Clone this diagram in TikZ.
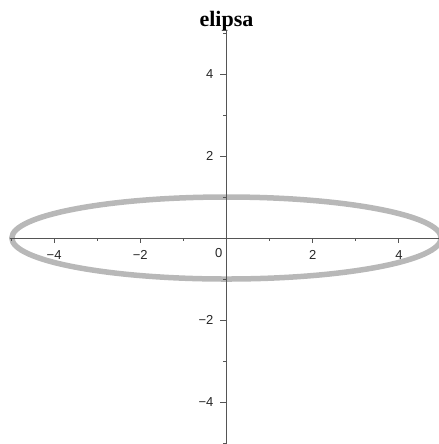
\documentclass[tikz,border=0pt]{standalone}
\usepackage{fontspec}
\setmainfont{Liberation Serif}
\newfontfamily\ticksfont{Liberation Sans}
\usepackage{xcolor}
\definecolor{cAxis}{HTML}{555555}
\definecolor{cCurve}{HTML}{B8B8B8}
\tikzset{
  axis/.style     = {draw=cAxis, line width=1pt},
  majtick/.style  = {draw=cAxis, line width=1pt},
  mintick/.style  = {draw=cAxis, line width=0.8pt},
  ticklab/.style  = {font=\ticksfont\fontsize{13}{13}\selectfont, text=black!85, inner sep=0pt},
  curve/.style    = {draw=cCurve, line width=5.5pt},
  ttl/.style      = {font=\bfseries\fontsize{22}{22}\selectfont, inner sep=0pt, anchor=base},
}

\begin{document}
\begin{tikzpicture}[x=43.1pt, y=41pt]
  \useasboundingbox (-5.255,-5.024) rectangle (4.930,5.805);
  % title
  \node[ttl] (title) at (0,5.17) {elipsa};

  % ellipse (under the axes)
  \draw[curve] (0,0) ellipse [x radius=4.98, y radius=1];

  % axes
  \coordinate (xl) at (-5.03,0);
  \coordinate (xr) at (4.93,0);
  \coordinate (yb) at (0,-5.03);
  \coordinate (yt) at (0,5.05);
  \draw[axis] (xl) -- (xr);
  \draw[axis] (yb) -- (yt);

  % ticks
  \foreach \t in {-4,-2,2,4} {
    \draw[majtick] (\t,0) -- ++(0,-5pt);
    \draw[majtick] (0,\t) -- ++(-6pt,0);
  }
  \foreach \t in {-5,-3,-1,1,3,5} {
    \draw[mintick] (\t,0) -- ++(0,-3pt);
    \draw[mintick] (0,\t) -- ++(-3pt,0);
  }

  % tick labels
  \foreach \t/\s in {-4/{−4},-2/{−2},2/2,4/4}
    \node[ticklab] (xlab\t) at (\t,-0.42) {\s};
  \foreach \t/\s in {-4/{−4},-2/{−2},2/2,4/4}
    \node[ticklab, anchor=east] (ylab\t) at (-0.30,\t) {\s};
  \node[ticklab] (zero) at (-0.18,-0.37) {0};
\end{tikzpicture}
\end{document}
